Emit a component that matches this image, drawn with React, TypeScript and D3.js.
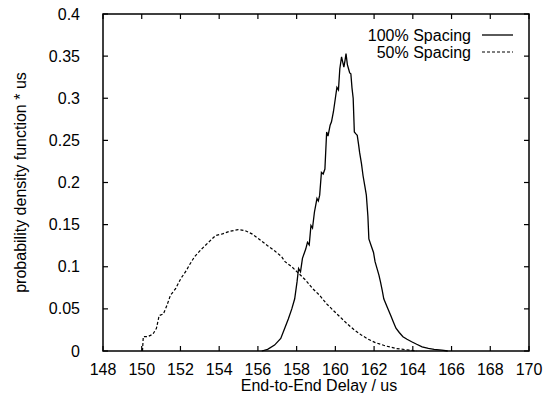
import { useEffect, useRef } from "react"
import * as d3 from "d3"

// 100% spacing (solid) - delay in us, pdf * us
const spacing100X = [
  156.2, 156.5, 156.86, 157.18, 157.4, 157.57, 157.75, 157.9, 158.02, 158.1, 158.2, 158.3, 158.47,
  158.56, 158.65, 158.74, 158.82, 158.92, 159.05, 159.12, 159.19, 159.28, 159.37, 159.46, 159.55,
  159.62, 159.73, 159.8, 159.9, 160.0, 160.08, 160.16, 160.23, 160.32, 160.38, 160.44, 160.5,
  160.55, 160.62, 160.68, 160.74, 160.8, 160.86, 160.92, 160.98, 161.05, 161.13, 161.2, 161.25,
  161.35, 161.43, 161.52, 161.6, 161.68, 161.73, 161.85, 161.97, 162.05, 162.15, 162.25, 162.33,
  162.42, 162.5, 162.68, 162.86, 163.0, 163.13, 163.3, 163.49, 163.7, 163.94, 164.2, 164.48,
  164.8, 165.1, 165.5, 165.8,
]
const spacing100Y = [
  0, 0.002, 0.007, 0.015, 0.028, 0.038, 0.05, 0.062, 0.082, 0.098, 0.094, 0.11, 0.121,
  0.129, 0.126, 0.149, 0.146, 0.165, 0.181, 0.178, 0.185, 0.212, 0.21, 0.216, 0.26,
  0.255, 0.268, 0.272, 0.284, 0.3, 0.313, 0.31, 0.335, 0.349, 0.343, 0.337, 0.345,
  0.353, 0.34, 0.335, 0.33, 0.329, 0.312, 0.3, 0.26, 0.258, 0.256, 0.245, 0.236,
  0.222, 0.208, 0.196, 0.185, 0.16, 0.133, 0.125, 0.117, 0.106, 0.098, 0.09, 0.082,
  0.072, 0.062, 0.052, 0.042, 0.034, 0.027, 0.022, 0.017, 0.014, 0.011, 0.008, 0.005,
  0.003, 0.002, 0.001, 0,
]

// 50% spacing (dashed)
const spacing50X = [
  150.04, 150.08, 150.31, 150.58, 150.76, 150.9, 151.12, 151.3, 151.48, 151.75, 152.02, 152.29,
  152.46, 152.73, 153.09, 153.45, 153.81, 154.17, 154.53, 154.98, 155.33, 155.69, 156.05, 156.5,
  156.86, 157.22, 157.4, 157.75, 158.11, 158.47, 158.83, 159.19, 159.55, 159.9, 160.26, 160.62,
  160.98, 161.34, 161.7, 162.06, 162.6, 163.13, 163.85, 164.2,
]
const spacing50Y = [
  0, 0.017, 0.017, 0.02, 0.027, 0.042, 0.044, 0.054, 0.066, 0.074, 0.086, 0.095,
  0.102, 0.112, 0.121, 0.129, 0.137, 0.139, 0.142, 0.144, 0.143, 0.139, 0.133, 0.125,
  0.119, 0.112, 0.106, 0.1, 0.092, 0.084, 0.074, 0.066, 0.056, 0.048, 0.04, 0.032,
  0.025, 0.019, 0.014, 0.01, 0.006, 0.003, 0.001, 0,
]

const xTicks = [148, 150, 152, 154, 156, 158, 160, 162, 164, 166, 168, 170]
const yTicks = [0, 0.05, 0.1, 0.15, 0.2, 0.25, 0.3, 0.35, 0.4]
const legendLabels = ["100% Spacing", "50% Spacing"]

export default function App() {
  const svgRef = useRef<SVGSVGElement | null>(null)

  useEffect(() => {
    if (!svgRef.current) return
    const root = d3.select(svgRef.current)
    root.selectAll("*").remove()

    const width = 545
    const height = 393
    const left = 103
    const right = 529
    const top = 14
    const bottom = 351
    const font = "'Liberation Sans', Arial, Helvetica, sans-serif"

    root.append("rect").attr("width", width).attr("height", height).attr("fill", "white")

    const x = d3.scaleLinear().domain([148, 170]).range([left, right])
    const y = d3.scaleLinear().domain([0, 0.4]).range([bottom, top])

    const g = root.append("g")

    // frame
    g.append("rect")
      .attr("x", left)
      .attr("y", top)
      .attr("width", right - left)
      .attr("height", bottom - top)
      .attr("fill", "none")
      .attr("stroke", "black")
      .attr("stroke-width", 1.5)

    const tickLen = 5

    // x ticks (bottom + mirrored top, inward)
    xTicks.forEach((t) => {
      g.append("line")
        .attr("x1", x(t)).attr("x2", x(t))
        .attr("y1", bottom).attr("y2", bottom - tickLen)
        .attr("stroke", "black").attr("stroke-width", 1.2)
      g.append("line")
        .attr("x1", x(t)).attr("x2", x(t))
        .attr("y1", top).attr("y2", top + tickLen)
        .attr("stroke", "black").attr("stroke-width", 1.2)
      g.append("text")
        .attr("x", x(t))
        .attr("y", 375)
        .attr("text-anchor", "middle")
        .attr("font-family", font)
        .attr("font-size", 16)
        .text(t)
    })

    // y ticks
    yTicks.forEach((t) => {
      g.append("line")
        .attr("x1", left).attr("x2", left + tickLen)
        .attr("y1", y(t)).attr("y2", y(t))
        .attr("stroke", "black").attr("stroke-width", 1.2)
      g.append("line")
        .attr("x1", right).attr("x2", right - tickLen)
        .attr("y1", y(t)).attr("y2", y(t))
        .attr("stroke", "black").attr("stroke-width", 1.2)
      g.append("text")
        .attr("x", 80)
        .attr("y", y(t))
        .attr("dy", "0.35em")
        .attr("text-anchor", "end")
        .attr("font-family", font)
        .attr("font-size", 16)
        .text(t === 0 ? "0" : String(t))
    })

    // axis titles
    g.append("text")
      .attr("x", 319)
      .attr("y", 391)
      .attr("text-anchor", "middle")
      .attr("font-family", font)
      .attr("font-size", 16)
      .text("End-to-End Delay / us")

    g.append("text")
      .attr("transform", `translate(20,${(top + bottom) / 2}) rotate(-90)`)
      .attr("dy", "0.35em")
      .attr("text-anchor", "middle")
      .attr("font-family", font)
      .attr("font-size", 16)
      .text("probability density function * us")

    const line = d3
      .line<[number, number]>()
      .x((d) => x(d[0]))
      .y((d) => y(d[1]))

    const solid = spacing100X.map((v, i) => [v, spacing100Y[i]] as [number, number])
    const dashed = spacing50X.map((v, i) => [v, spacing50Y[i]] as [number, number])

    g.append("path")
      .attr("d", line(solid))
      .attr("fill", "none")
      .attr("stroke", "black")
      .attr("stroke-width", 1.3)

    g.append("path")
      .attr("d", line(dashed))
      .attr("fill", "none")
      .attr("stroke", "black")
      .attr("stroke-width", 1.2)
      .attr("stroke-dasharray", "3,2")

    // legend
    const legendY = [35, 52]
    legendLabels.forEach((lab, i) => {
      g.append("text")
        .attr("x", 471)
        .attr("y", legendY[i])
        .attr("dy", "0.35em")
        .attr("text-anchor", "end")
        .attr("font-family", font)
        .attr("font-size", 16)
        .text(lab)
      g.append("line")
        .attr("x1", 482).attr("x2", 513)
        .attr("y1", legendY[i]).attr("y2", legendY[i])
        .attr("stroke", "black")
        .attr("stroke-width", i === 0 ? 1.3 : 1.2)
        .attr("stroke-dasharray", i === 0 ? null : "3,2")
    })
  }, [])

  return (
    <svg
      ref={svgRef}
      width={545}
      height={393}
      style={{ position: "absolute", left: 0, top: 0, display: "block" }}
    ></svg>
  )
}
